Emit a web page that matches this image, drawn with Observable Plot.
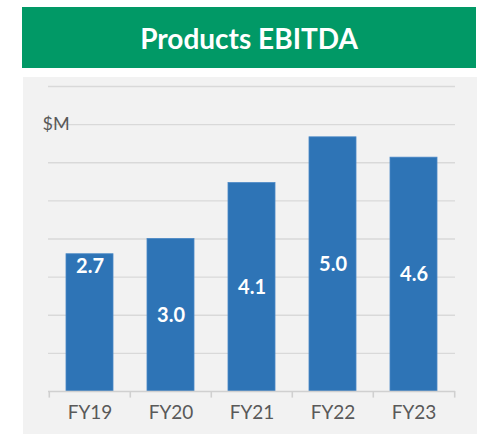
<!DOCTYPE html>
<html>
<head>
<meta charset="utf-8">
<script src="https://cdn.jsdelivr.net/npm/d3@7"></script>
<script src="https://cdn.jsdelivr.net/npm/@observablehq/plot@0.6"></script>
<style>
  html, body { margin: 0; padding: 0; background: #ffffff; }
  #wrap { position: relative; width: 487px; height: 434px; overflow: hidden; font-family: Lato, "Open Sans", sans-serif; }
  #banner { position: absolute; left: 22px; top: 7px; width: 454px; height: 61px; background: #019966;
            color: #ffffff; font-weight: bold; font-size: 28px; display: flex; align-items: center; justify-content: center; }
  #panel { position: absolute; left: 23px; top: 77px; width: 454px; height: 357px; background: #F2F2F2; }
  #panel svg { display: block; }
</style>
</head>
<body>
<div id="wrap">
  <div id="banner"></div>
  <div id="panel"></div>
</div>
<script>
const title = "Products EBITDA";
const unitLabel = "$M";
const categories = ["FY19", "FY20", "FY21", "FY22", "FY23"];
const ebitda = [2.7, 3.0, 4.1, 5.0, 4.6];
const gridTicks = [0.75, 1.5, 2.25, 3, 3.75, 4.5, 5.25, 6];

const data = categories.map((c, i) => ({cat: c, value: ebitda[i]}));

document.getElementById("banner").textContent = title;

const W = 454, H = 357, mL = 25, mR = 22, mT = 9, mB = 43;
const step = (W - mL - mR) / categories.length;
const gray = "#595959";

const chart = Plot.plot({
  width: W,
  height: H,
  marginLeft: mL,
  marginRight: mR,
  marginTop: mT,
  marginBottom: mB,
  style: {background: "transparent", fontFamily: "Lato, 'Open Sans', sans-serif", overflow: "visible"},
  x: {domain: categories, paddingInner: 0.42, paddingOuter: 0.21, axis: null},
  y: {domain: [0, 6], axis: null},
  marks: [
    Plot.ruleY(gridTicks, {stroke: "#D9D9D9", strokeWidth: 1.4}),
    Plot.barY(data, {x: "cat", y: "value", fill: "#2E74B6", stroke: "#4A88C6", strokeWidth: 0.8}),
    Plot.ruleY([0], {stroke: "#D0D0D0", strokeWidth: 1.6}),
    Plot.ruleX(categories, {x: d => d, y1: 0, y2: 0, insetBottom: -6.6, dx: -step / 2, stroke: "#D0D0D0", strokeWidth: 1.6}),
    Plot.ruleX([categories[categories.length - 1]], {x: d => d, y1: 0, y2: 0, insetBottom: -6.6, dx: step / 2, stroke: "#D0D0D0", strokeWidth: 1.6}),
    Plot.text(data.filter(d => d.cat !== "FY19"), {x: "cat", y: d => d.value / 2, text: d => d.value.toFixed(1), fill: "#ffffff", fontWeight: "bold", fontSize: 20}),
    Plot.text(data.filter(d => d.cat === "FY19"), {x: "cat", y: "value", dy: 12, text: d => d.value.toFixed(1), fill: "#ffffff", fontWeight: "bold", fontSize: 20}),
    Plot.text(categories, {x: d => d, frameAnchor: "bottom", dy: 27, text: d => d, fill: gray, fontSize: 19}),
    Plot.text([unitLabel], {frameAnchor: "top-left", textAnchor: "start", dx: -6, dy: 31, text: d => d, fill: gray, fontSize: 18})
  ]
});

document.getElementById("panel").appendChild(chart);
</script>
</body>
</html>
